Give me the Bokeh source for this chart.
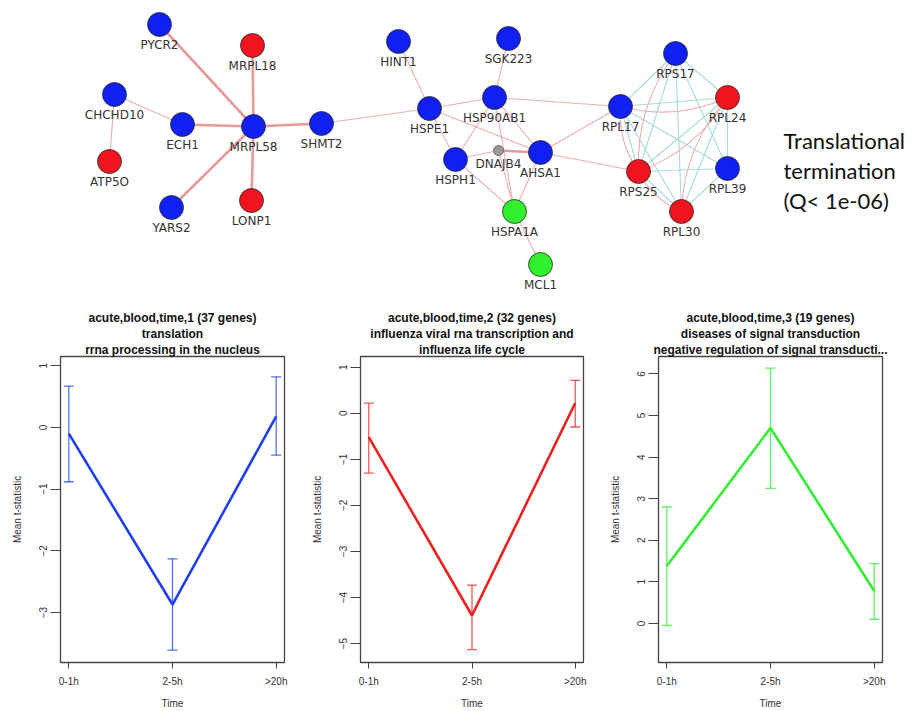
from bokeh.plotting import figure
from bokeh.layouts import column, row
from bokeh.models import Range1d, FixedTicker, Title, ColumnDataSource, Whisker, TeeHead
from bokeh.embed import file_html
from bokeh.resources import INLINE
from bokeh.core.properties import value

# ---------------- network data ----------------
node_names = ["PYCR2", "MRPL18", "CHCHD10", "ECH1", "MRPL58", "SHMT2", "ATP5O", "YARS2", "LONP1",
              "HINT1", "SGK223", "HSPE1", "HSP90AB1", "HSPH1", "DNAJB4", "AHSA1", "HSPA1A", "MCL1",
              "RPL17", "RPS17", "RPL24", "RPS25", "RPL39", "RPL30"]
node_x = [159, 252, 114, 182, 253, 321, 109, 171, 251,
          398, 508, 429, 494, 455, 498, 540, 514, 540,
          620, 675, 727, 638, 727, 681]
node_y = [24, 45, 94, 124, 126, 123, 161, 207, 200,
          41, 38, 108, 97, 159, 150, 152, 211, 264,
          106, 53, 97, 171, 168, 211]
node_group = ["down", "up", "down", "down", "down", "down", "up", "down", "up",
              "down", "down", "down", "down", "down", "linker", "down", "cluster3", "cluster3",
              "down", "down", "up", "up", "down", "up"]

strong_edges = [("MRPL58", "PYCR2"), ("MRPL58", "MRPL18"), ("MRPL58", "ECH1"), ("MRPL58", "SHMT2"),
                ("MRPL58", "YARS2"), ("MRPL58", "LONP1"), ("DNAJB4", "AHSA1")]
weak_edges = [("ECH1", "CHCHD10"), ("CHCHD10", "ATP5O"), ("SHMT2", "HSPE1"), ("HINT1", "HSPE1"),
              ("SGK223", "HSP90AB1"), ("HSPE1", "HSP90AB1"), ("HSPE1", "HSPH1"), ("HSPE1", "AHSA1"),
              ("HSP90AB1", "HSPH1"), ("HSP90AB1", "AHSA1"), ("HSP90AB1", "HSPA1A"), ("HSP90AB1", "RPL17"),
              ("HSPH1", "DNAJB4"), ("HSPH1", "HSPA1A"), ("DNAJB4", "HSPA1A"), ("AHSA1", "HSPA1A"),
              ("HSPA1A", "MCL1"), ("AHSA1", "RPL17"), ("AHSA1", "RPS25")]
ribo = ["RPL17", "RPS17", "RPL24", "RPS25", "RPL39", "RPL30"]
coexp_edges = [(a, b) for i, a in enumerate(ribo) for b in ribo[i + 1:]]
arc_edges = [("RPL17", "RPL24"), ("RPS17", "RPS25"), ("RPS25", "RPL24"), ("RPL24", "RPL30"),
             ("RPL17", "RPS25"), ("RPS25", "RPL30")]

side_text = ["Translational", "termination", "(Q< 1e-06)"]

# ---------------- time-course data ----------------
time_labels = ["0-1h", "2-5h", ">20h"]
time_pos = [1, 2, 3]

titles1 = ["acute,blood,time,1 (37 genes)", "translation", "rrna processing in the nucleus"]
mean1 = [-0.10, -2.87, 0.18]
lo1 = [-0.88, -3.61, -0.45]
hi1 = [0.67, -2.13, 0.82]

titles2 = ["acute,blood,time,2 (32 genes)", "influenza viral rna transcription and", "influenza life cycle"]
mean2 = [-0.52, -4.39, 0.22]
lo2 = [-1.30, -5.13, -0.30]
hi2 = [0.22, -3.73, 0.71]

titles3 = ["acute,blood,time,3 (19 genes)", "diseases of signal transduction",
           "negative regulation of signal transducti..."]
mean3 = [1.38, 4.70, 0.78]
lo3 = [-0.05, 3.25, 0.10]
hi3 = [2.80, 6.14, 1.44]

# ---------------- network figure ----------------
group_color = {"down": "#1020F0", "up": "#F0141E", "cluster3": "#30F030", "linker": "#9A9A9A"}
pos = {n: (x, y) for n, x, y in zip(node_names, node_x, node_y)}

net = figure(width=922, height=300, x_range=Range1d(0, 922), y_range=Range1d(300, 0),
             output_backend="svg", toolbar_location=None, min_border=0,
             x_axis_location=None, y_axis_location=None)
net.xgrid.visible = False
net.ygrid.visible = False
net.outline_line_color = None


def seg(edges):
    return dict(x0=[pos[a][0] for a, b in edges], y0=[pos[a][1] for a, b in edges],
                x1=[pos[b][0] for a, b in edges], y1=[pos[b][1] for a, b in edges])


net.segment(source=ColumnDataSource(seg(coexp_edges)), x0="x0", y0="y0", x1="x1", y1="y1",
            line_color="#9ED6DA", line_width=1.1, line_alpha=0.9)
net.segment(source=ColumnDataSource(seg(weak_edges)), x0="x0", y0="y0", x1="x1", y1="y1",
            line_color="#E8A6A6", line_width=1.1, line_alpha=0.9)
net.segment(source=ColumnDataSource(seg(strong_edges)), x0="x0", y0="y0", x1="x1", y1="y1",
            line_color="#E39090", line_width=2.6, line_alpha=0.9)

arc = seg(arc_edges)
cx, cy = [], []
for x0, y0, x1, y1 in zip(arc["x0"], arc["y0"], arc["x1"], arc["y1"]):
    mx, my = (x0 + x1) / 2, (y0 + y1) / 2
    dx, dy = x1 - x0, y1 - y0
    cx.append(mx - dy * 0.18)
    cy.append(my + dx * 0.18)
arc["cx"] = cx
arc["cy"] = cy
net.quadratic(source=ColumnDataSource(arc), x0="x0", y0="y0", x1="x1", y1="y1", cx="cx", cy="cy",
              line_color="#E8A6A6", line_width=1.1, line_alpha=0.9)

big = [i for i, g in enumerate(node_group) if g != "linker"]
small = [i for i, g in enumerate(node_group) if g == "linker"]
net.scatter([node_x[i] for i in big], [node_y[i] for i in big], size=24,
            fill_color=[group_color[node_group[i]] for i in big], line_color="#2A2A2A", line_width=0.8)
net.scatter([node_x[i] for i in small], [node_y[i] for i in small], size=10,
            fill_color=[group_color[node_group[i]] for i in small], line_color="#555555", line_width=0.8)
net.text([node_x[i] for i in big], [node_y[i] for i in big], text=[node_names[i] for i in big],
         text_align="center", text_baseline="middle", y_offset=20,
         text_font=value("DejaVu Sans"), text_font_size="12px", text_color="#333333")
net.text([node_x[i] for i in small], [node_y[i] for i in small], text=[node_names[i] for i in small],
         text_align="center", text_baseline="middle", y_offset=13,
         text_font=value("DejaVu Sans"), text_font_size="12px", text_color="#333333")
net.text([783, 783, 783], [140, 170, 200], text=side_text, text_align="left", text_baseline="middle",
         text_font=value("Lato"), text_font_size="22px", text_color="#111111")


# ---------------- time-course panels ----------------
def make_panel(title_lines, mean, lo, hi, color, yr, yticks, width, left, right):
    p = figure(width=width, height=411, x_range=Range1d(0.92, 3.08), y_range=Range1d(*yr),
               output_backend="svg", toolbar_location=None, title=None,
               min_border_left=left, min_border_right=right, min_border_top=56, min_border_bottom=48)
    p.xgrid.visible = False
    p.ygrid.visible = False
    p.outline_line_color = "#444444"
    p.outline_line_width = 1.3
    for line in reversed(title_lines):
        p.add_layout(Title(text=line, align="center", text_font="Liberation Sans", text_font_size="12px",
                           text_font_style="bold", text_color="#111111", standoff=0), "above")
    src = ColumnDataSource(dict(x=time_pos, mean=mean, lo=lo, hi=hi))
    p.line("x", "mean", source=src, line_color=color, line_width=2.6)
    p.add_layout(Whisker(source=src, base="x", lower="lo", upper="hi", line_color=color, line_width=1.3,
                         line_alpha=0.75,
                         upper_head=TeeHead(size=10, line_color=color, line_width=1.3, line_alpha=0.75),
                         lower_head=TeeHead(size=10, line_color=color, line_width=1.3, line_alpha=0.75)))
    p.xaxis.ticker = FixedTicker(ticks=time_pos)
    p.xaxis.major_label_overrides = {t: l for t, l in zip(time_pos, time_labels)}
    p.xaxis.axis_label = "Time"
    p.yaxis.ticker = FixedTicker(ticks=yticks)
    p.yaxis.axis_label = "Mean t-statistic"
    p.yaxis.major_label_orientation = "vertical"
    for ax in p.axis:
        ax.axis_line_color = None
        ax.major_tick_in = 0
        ax.minor_tick_in = 0
        ax.minor_tick_out = 0
        ax.major_tick_line_color = "#444444"
        ax.major_label_text_font = "Liberation Sans"
        ax.major_label_text_font_size = "10px"
        ax.major_label_text_color = "#333333"
        ax.axis_label_text_font = "Liberation Sans"
        ax.axis_label_text_font_size = "10px"
        ax.axis_label_text_font_style = "normal"
        ax.axis_label_text_color = "#333333"
    p.xaxis.major_tick_out = 6
    p.xaxis.major_label_standoff = 7
    p.xaxis.axis_label_standoff = 8
    p.yaxis.major_tick_out = 10
    p.yaxis.major_label_standoff = 3
    p.yaxis.axis_label_standoff = 14
    return p


p1 = make_panel(titles1, mean1, lo1, hi1, "#2040F0", (-3.81, 1.15), [-3, -2, -1, 0, 1], 300, 60, 16)
p2 = make_panel(titles2, mean2, lo2, hi2, "#F02020", (-5.41, 1.23), [-5, -4, -3, -2, -1, 0, 1], 298, 60, 15)
p3 = make_panel(titles3, mean3, lo3, hi3, "#33EE33", (-0.94, 6.42), [0, 1, 2, 3, 4, 5, 6], 324, 60, 40)

layout = column(net, row(p1, p2, p3))
open("out.html", "w").write(file_html(layout, INLINE))
